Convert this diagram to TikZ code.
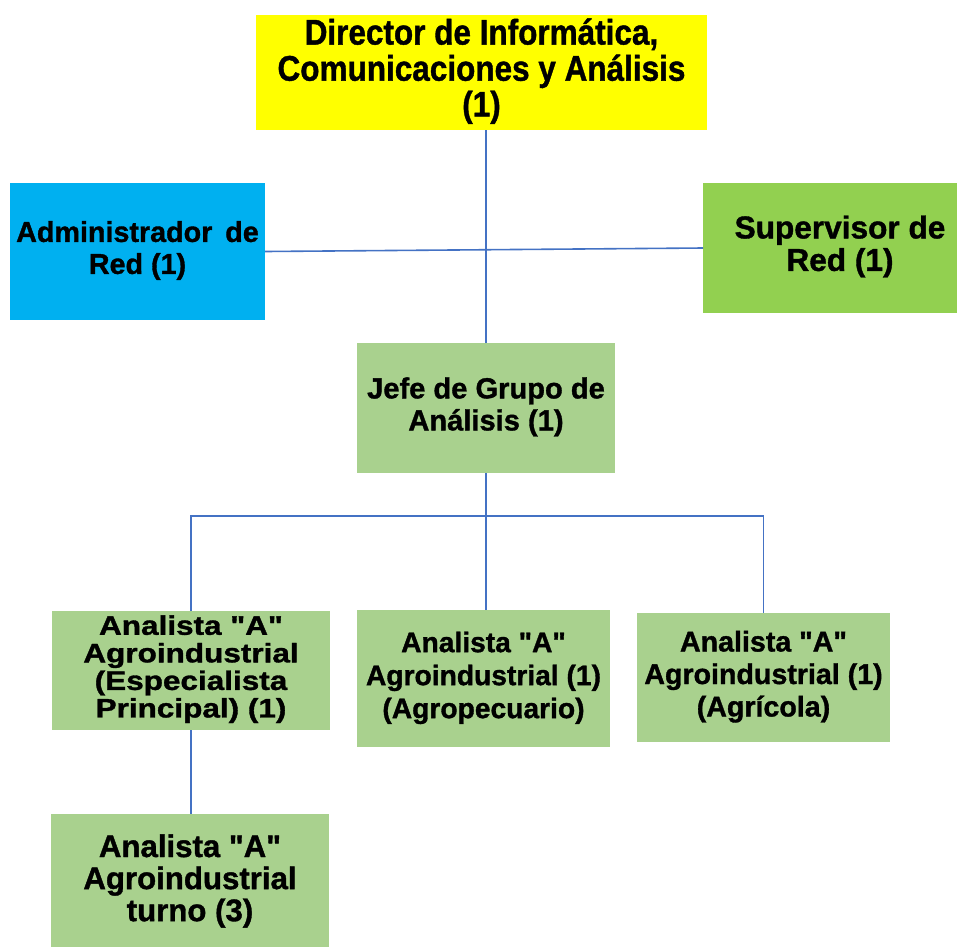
\documentclass[tikz,border=0pt]{standalone}
\usepackage{fontspec}
\usepackage{graphicx}
\newfontfamily\orgfont[FakeBold=1.2]{Liberation Sans}
\definecolor{dirfill}{HTML}{FFFF00}
\definecolor{admfill}{HTML}{00B0F0}
\definecolor{supfill}{HTML}{92D050}
\definecolor{grpfill}{HTML}{A9D18E}
\definecolor{linkblue}{HTML}{4472C4}
% #1 vertical scale, #2 font size, #3 line spacing, #4 lines
\newcommand\boxtext[4]{\scalebox{1}[#1]{\fontsize{#2}{#3}\orgfont\bfseries\begin{tabular}{@{}c@{}}#4\end{tabular}}}
\begin{document}
\begin{tikzpicture}[x=1pt,y=-1pt,
  unit/.style={rectangle, inner sep=0pt, outer sep=0pt, text=black},
  link/.style={draw=linkblue, line width=1.6pt}]
\useasboundingbox (0,0) rectangle (958,946);
\fill[white] (0,0) rectangle (958,946);

\node[unit, fill=dirfill, minimum width=451, minimum height=115] (dir) at (481.5,72.5)
  {\boxtext{1.13}{31.5}{29.6}{Director de Informática,\\Comunicaciones y Análisis\\(1)}};
\node[unit, fill=admfill, minimum width=255, minimum height=137] (adm) at (137.5,251.5)
  {\boxtext{1}{28.7}{32}{Administrador\hspace{0.45em}de\\Red (1)}};
\node[unit, fill=supfill, minimum width=254, minimum height=130] (sup) at (830,248)
  {\boxtext{1}{31.6}{32}{\hspace{20pt}Supervisor de\\\hspace{20pt}Red (1)}};
\node[unit, fill=grpfill, minimum width=258, minimum height=130] (jefe) at (486,408)
  {\boxtext{1}{29.1}{32}{Jefe de Grupo de\\Análisis (1)}};

\node[unit, fill=grpfill, minimum width=278, minimum height=119] (an1) at (191,670.5)
  {\boxtext{0.85}{31.5}{32}{Analista "A"\\Agroindustrial\\(Especialista\\Principal) (1)}};
\node[unit, fill=grpfill, minimum width=253, minimum height=137] (an2) at (483.5,678.5)
  {\boxtext{1}{28.2}{33}{Analista "A"\\Agroindustrial (1)\\(Agropecuario)}};
\node[unit, fill=grpfill, minimum width=253, minimum height=129] (an3) at (763.5,677.5)
  {\boxtext{1}{28.6}{32.5}{Analista "A"\\Agroindustrial (1)\\(Agrícola)}};
\node[unit, fill=grpfill, minimum width=278, minimum height=137] (an4) at (190,882.5)
  {\boxtext{1}{31.2}{31.5}{Analista "A"\\Agroindustrial\\turno (3)}};

\coordinate (bus) at (486,516);

\draw[link] (dir.south -| jefe.north) -- (jefe.north);
\draw[link] (adm.east) -- (sup.west);
\draw[link] (jefe.south) -- (jefe.south |- an2.north);
\draw[link] (an1.north) |- (bus) -| (an3.north);
\draw[link] (an1.south) -- (an1.south |- an4.north);
\end{tikzpicture}
\end{document}
